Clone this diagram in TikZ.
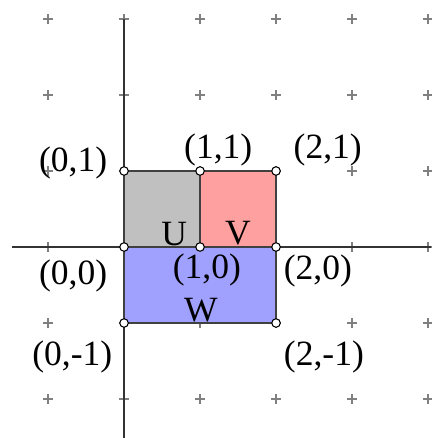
\documentclass[tikz,border=0pt]{standalone}
\usepackage{fontspec}
\setmainfont{Liberation Serif}
\usepackage{tikz}
\usetikzlibrary{positioning}
\definecolor{cellgray}{RGB}{192,192,192}
\definecolor{cellred}{RGB}{255,160,160}
\definecolor{cellblue}{RGB}{160,160,255}
\definecolor{markgray}{RGB}{128,128,128}

\begin{document}
\begin{tikzpicture}[
    gridmark/.style={draw=markgray, line width=0.45pt},
    axis/.style={draw=black!80, line width=0.5pt},
    cell/.style={draw=black!75, line width=0.5pt},
    dot/.style={circle, draw=black, fill=white, line width=0.4pt, inner sep=0pt, minimum size=3.2pt},
    lbl/.style={font=\fontsize{13.3}{16}\selectfont, inner sep=0pt}
]
    \useasboundingbox (-1.632,-2.513) rectangle (4.039,3.25);

    % plus marks
    \foreach \x in {-1,...,4}
      \foreach \y in {-2,...,3}
        \draw[gridmark] (\x-0.065,\y) -- (\x+0.065,\y) (\x,\y-0.065) -- (\x,\y+0.065);

    % axes
    \coordinate (xl) at (-1.47,0);
    \coordinate (xr) at (4.04,0);
    \coordinate (yb) at (0,-2.52);
    \coordinate (yt) at (0,3);
    \draw[axis] (xl) -- (xr);
    \draw[axis] (yb) -- (yt);

    \coordinate (c00) at (0,0);
    \coordinate (c10) at (1,0);
    \coordinate (c20) at (2,0);
    \coordinate (c01) at (0,1);
    \coordinate (c11) at (1,1);
    \coordinate (c21) at (2,1);
    \coordinate (c0m) at (0,-1);
    \coordinate (c2m) at (2,-1);

    \filldraw[cell, fill=cellgray] (c00) rectangle (c11);
    \filldraw[cell, fill=cellred] (c10) rectangle (c21);
    \filldraw[cell, fill=cellblue] (c0m) rectangle (c20);

    \foreach \p in {c00,c10,c20,c01,c11,c21,c0m,c2m}
      \node[dot] (d\p) at (\p) {};

    \node[lbl] (l01) at (-0.67,1.11) {(0,1)};
    \node[lbl] (l11) at (1.24,1.28) {(1,1)};
    \node[lbl] (l21) at (2.68,1.28) {(2,1)};
    \node[lbl] (l00) at (-0.67,-0.38) {(0,0)};
    \node[lbl] (l10) at (1.09,-0.30) {(1,0)};
    \node[lbl] (l20) at (2.55,-0.32) {(2,0)};
    \node[lbl] (l0m) at (-0.68,-1.45) {(0,-1)};
    \node[lbl] (l2m) at (2.63,-1.45) {(2,-1)};

    \node[lbl] (u) at (0.66,0.17) {U};
    \node[lbl] (v) at (1.50,0.18) {V};
    \node[lbl] (w) at (1.01,-0.83) {W};
\end{tikzpicture}
\end{document}
